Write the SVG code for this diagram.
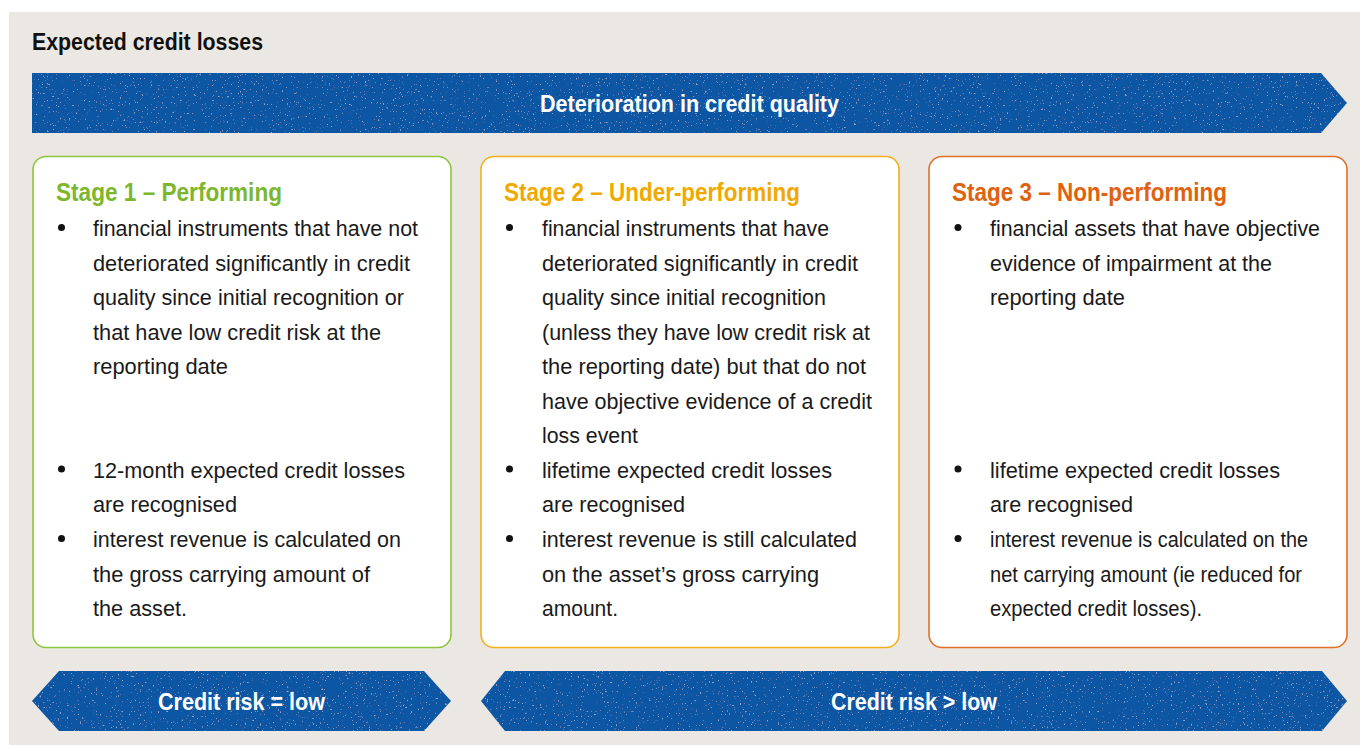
<svg xmlns="http://www.w3.org/2000/svg" width="1360" height="745" viewBox="0 0 1360 745">
<defs>
<style>
.bg{fill:#ebe7e2}
.blue{fill:#0b56a4}
.box{fill:#ffffff;stroke-width:1.6}
.title{font-family:"Liberation Sans",Arial,sans-serif;font-weight:bold;font-size:23px;fill:#111111}
.band{font-family:"Liberation Sans",Arial,sans-serif;font-weight:bold;font-size:23px;fill:#ffffff}
.head{font-family:"Liberation Sans",Arial,sans-serif;font-weight:bold;font-size:25px}
.body{font-family:"Liberation Sans",Arial,sans-serif;font-size:21.5px;fill:#1a1a1a}
.dot{fill:#111111}
</style>
<filter id="speck" x="0" y="0" width="100%" height="100%">
<feTurbulence type="fractalNoise" baseFrequency="0.55" numOctaves="2" seed="7" result="n"/>
<feColorMatrix in="n" type="matrix" values="0 0 0 0 1  0 0 0 0 1  0 0 0 0 1  9 0 0 0 -6.1" result="w"/>
<feComposite in="w" in2="SourceGraphic" operator="in" result="s"/>
<feComponentTransfer in="s" result="s2"><feFuncA type="linear" slope="0.3"/></feComponentTransfer>
<feMerge><feMergeNode in="SourceGraphic"/><feMergeNode in="s2"/></feMerge>
</filter>
</defs>

<rect class="bg" x="9" y="12" width="1351" height="733"/>

<text class="title" x="32" y="50" textLength="231" lengthAdjust="spacingAndGlyphs">Expected credit losses</text>

<g id="arrows">
<g id="deterioration">
<polygon class="blue" filter="url(#speck)" points="32,73 1321,73 1347,103 1321,133 32,133"/>
<text class="band" x="540" y="112" textLength="299" lengthAdjust="spacingAndGlyphs">Deterioration in credit quality</text>
</g>
<g id="risk-low">
<polygon class="blue" filter="url(#speck)" points="32,701 59,671 424,671 451,701 424,731 59,731"/>
<text class="band" x="158" y="710" textLength="167" lengthAdjust="spacingAndGlyphs" style="font-size:24px">Credit risk = low</text>
</g>
<g id="risk-high">
<polygon class="blue" filter="url(#speck)" points="481,701 505,671 1322,671 1347,701 1322,731 505,731"/>
<text class="band" x="831" y="710" textLength="166" lengthAdjust="spacingAndGlyphs" style="font-size:24px">Credit risk &gt; low</text>
</g>
</g>

<g id="stage1">
<rect class="box" x="33" y="156.5" width="418" height="491" rx="13" stroke="#8cc63f"/>
<text class="head" x="56" y="201" fill="#7cb72d" textLength="226" lengthAdjust="spacingAndGlyphs">Stage 1 – Performing</text>
<circle class="dot" cx="61.5" cy="227.5" r="3.5"/>
<text class="body" x="93" y="236" textLength="325" lengthAdjust="spacingAndGlyphs">financial instruments that have not</text>
<text class="body" x="93" y="270.5" textLength="317" lengthAdjust="spacingAndGlyphs">deteriorated significantly in credit</text>
<text class="body" x="93" y="305" textLength="311" lengthAdjust="spacingAndGlyphs">quality since initial recognition or</text>
<text class="body" x="93" y="339.5" textLength="288" lengthAdjust="spacingAndGlyphs">that have low credit risk at the</text>
<text class="body" x="93" y="374" textLength="135" lengthAdjust="spacingAndGlyphs">reporting date</text>
<circle class="dot" cx="61.5" cy="469" r="3.5"/>
<text class="body" x="93" y="477.5" textLength="312" lengthAdjust="spacingAndGlyphs">12-month expected credit losses</text>
<text class="body" x="93" y="512" textLength="144" lengthAdjust="spacingAndGlyphs">are recognised</text>
<circle class="dot" cx="61.5" cy="538.5" r="3.5"/>
<text class="body" x="93" y="547" textLength="308" lengthAdjust="spacingAndGlyphs">interest revenue is calculated on</text>
<text class="body" x="93" y="581.5" textLength="277" lengthAdjust="spacingAndGlyphs">the gross carrying amount of</text>
<text class="body" x="93" y="616" textLength="94" lengthAdjust="spacingAndGlyphs">the asset.</text>
</g>

<g id="stage2">
<rect class="box" x="481" y="156.5" width="418" height="491" rx="13" stroke="#f2b11c"/>
<text class="head" x="504" y="201" fill="#f0a900" textLength="296" lengthAdjust="spacingAndGlyphs">Stage 2 – Under-performing</text>
<circle class="dot" cx="509.5" cy="227.5" r="3.5"/>
<text class="body" x="542" y="236" textLength="287" lengthAdjust="spacingAndGlyphs">financial instruments that have</text>
<text class="body" x="542" y="270.5" textLength="316" lengthAdjust="spacingAndGlyphs">deteriorated significantly in credit</text>
<text class="body" x="542" y="305" textLength="284" lengthAdjust="spacingAndGlyphs">quality since initial recognition</text>
<text class="body" x="542" y="339.5" textLength="328" lengthAdjust="spacingAndGlyphs">(unless they have low credit risk at</text>
<text class="body" x="542" y="374" textLength="324" lengthAdjust="spacingAndGlyphs">the reporting date) but that do not</text>
<text class="body" x="542" y="408.5" textLength="330" lengthAdjust="spacingAndGlyphs">have objective evidence of a credit</text>
<text class="body" x="542" y="443" textLength="96" lengthAdjust="spacingAndGlyphs">loss event</text>
<circle class="dot" cx="509.5" cy="469" r="3.5"/>
<text class="body" x="542" y="477.5" textLength="290" lengthAdjust="spacingAndGlyphs">lifetime expected credit losses</text>
<text class="body" x="542" y="512" textLength="143" lengthAdjust="spacingAndGlyphs">are recognised</text>
<circle class="dot" cx="509.5" cy="538.5" r="3.5"/>
<text class="body" x="542" y="547" textLength="315" lengthAdjust="spacingAndGlyphs">interest revenue is still calculated</text>
<text class="body" x="542" y="581.5" textLength="277" lengthAdjust="spacingAndGlyphs">on the asset’s gross carrying</text>
<text class="body" x="542" y="616" textLength="76" lengthAdjust="spacingAndGlyphs">amount.</text>
</g>

<g id="stage3">
<rect class="box" x="929" y="156.5" width="418" height="491" rx="13" stroke="#e3702a"/>
<text class="head" x="952" y="201" fill="#e0620f" textLength="275" lengthAdjust="spacingAndGlyphs">Stage 3 – Non-performing</text>
<circle class="dot" cx="958" cy="227.5" r="3.5"/>
<text class="body" x="990" y="236" textLength="330" lengthAdjust="spacingAndGlyphs">financial assets that have objective</text>
<text class="body" x="990" y="270.5" textLength="282" lengthAdjust="spacingAndGlyphs">evidence of impairment at the</text>
<text class="body" x="990" y="305" textLength="135" lengthAdjust="spacingAndGlyphs">reporting date</text>
<circle class="dot" cx="958" cy="469" r="3.5"/>
<text class="body" x="990" y="477.5" textLength="290" lengthAdjust="spacingAndGlyphs">lifetime expected credit losses</text>
<text class="body" x="990" y="512" textLength="143" lengthAdjust="spacingAndGlyphs">are recognised</text>
<circle class="dot" cx="958" cy="538.5" r="3.5"/>
<text class="body" x="990" y="547" textLength="318" lengthAdjust="spacingAndGlyphs">interest revenue is calculated on the</text>
<text class="body" x="990" y="581.5" textLength="312" lengthAdjust="spacingAndGlyphs">net carrying amount (ie reduced for</text>
<text class="body" x="990" y="616" textLength="212" lengthAdjust="spacingAndGlyphs">expected credit losses).</text>
</g>
</svg>
